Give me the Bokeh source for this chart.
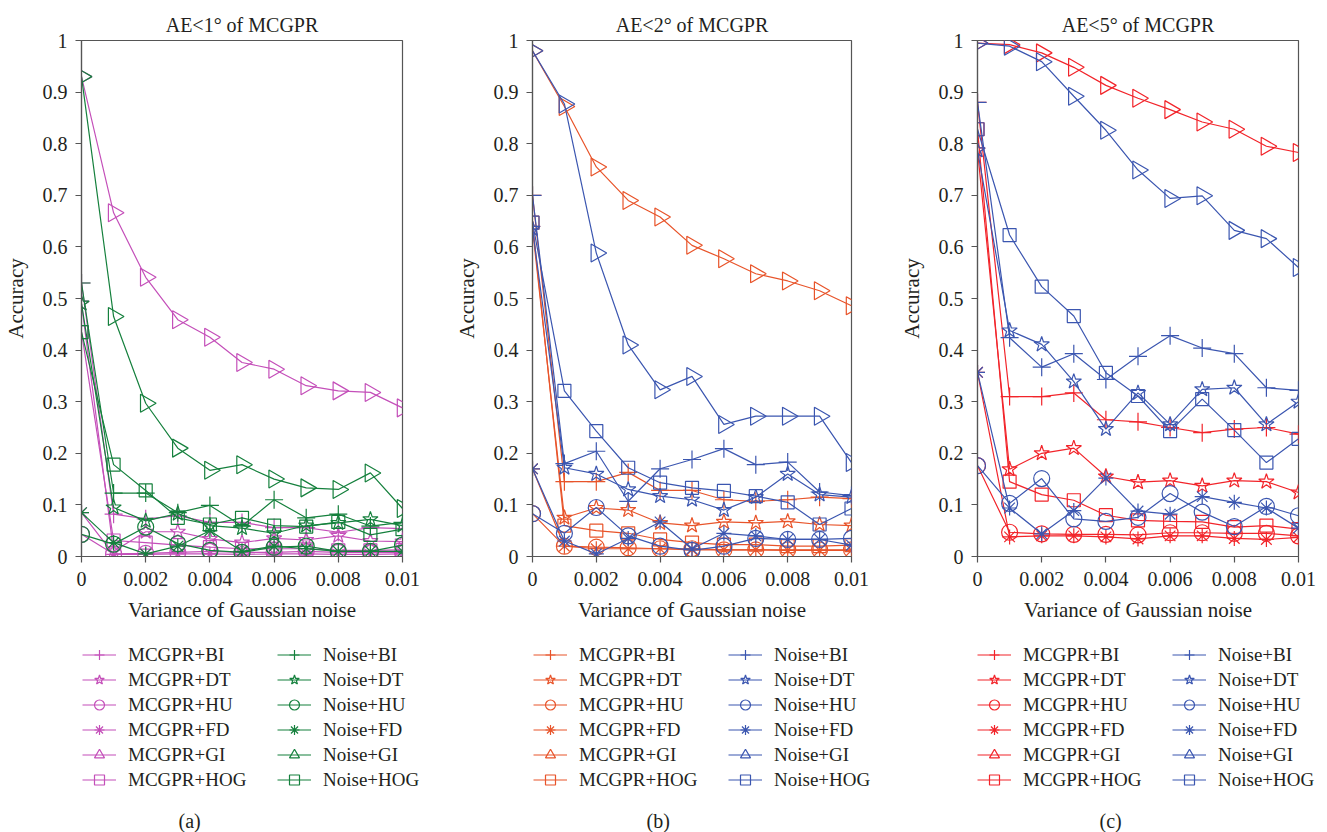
import math
from bokeh.plotting import figure
from bokeh.layouts import row, column
from bokeh.models import Range1d, FixedTicker, Legend, LegendItem, Label
from bokeh.embed import file_html
from bokeh.resources import INLINE

# ---------------- data ----------------
noise_var = [0, 0.001, 0.002, 0.003, 0.004, 0.005, 0.006, 0.007, 0.008, 0.009, 0.01]
x_ticks = [0, 0.002, 0.004, 0.006, 0.008, 0.01]
x_tick_labels = ["0", "0.002", "0.004", "0.006", "0.008", "0.01"]
y_ticks = [0, 0.1, 0.2, 0.3, 0.4, 0.5, 0.6, 0.7, 0.8, 0.9, 1]
y_tick_labels = ["0", "0.1", "0.2", "0.3", "0.4", "0.5", "0.6", "0.7", "0.8", "0.9", "1"]
features = ["BI", "DT", "HU", "FD", "GI", "HOG"]
panel_titles = ["AE<1° of MCGPR", "AE<2° of MCGPR", "AE<5° of MCGPR"]
captions = ["(a)", "(b)", "(c)"]
x_label = "Variance of Gaussian noise"
y_label = "Accuracy"

# panel (a) AE<1°
a_mcgpr_bi = [0.53, 0.082, 0.073, 0.079, 0.066, 0.066, 0.056, 0.056, 0.047, 0.056, 0.054]
a_mcgpr_dt = [0.49, 0.010, 0.048, 0.048, 0.034, 0.027, 0.035, 0.032, 0.040, 0.030, 0.029]
a_mcgpr_hu = [0.043, 0.005, 0.006, 0.008, 0.010, 0.008, 0.008, 0.010, 0.008, 0.008, 0.008]
a_mcgpr_fd = [0.085, 0.004, 0.004, 0.005, 0.005, 0.004, 0.005, 0.005, 0.004, 0.004, 0.005]
a_mcgpr_gi = [0.93, 0.666, 0.541, 0.459, 0.425, 0.376, 0.363, 0.331, 0.321, 0.318, 0.288]
a_mcgpr_hog = [0.435, 0.031, 0.027, 0.022, 0.018, 0.015, 0.015, 0.015, 0.012, 0.012, 0.013]
a_noise_bi = [0.53, 0.123, 0.123, 0.085, 0.099, 0.059, 0.110, 0.075, 0.082, 0.059, 0.066]
a_noise_dt = [0.49, 0.095, 0.069, 0.083, 0.060, 0.055, 0.045, 0.060, 0.065, 0.072, 0.060]
a_noise_hu = [0.043, 0.024, 0.057, 0.025, 0.012, 0.008, 0.018, 0.020, 0.010, 0.010, 0.022]
a_noise_fd = [0.085, 0.027, 0.005, 0.020, 0.050, 0.010, 0.020, 0.015, 0.010, 0.010, 0.010]
a_noise_gi = [0.93, 0.465, 0.297, 0.210, 0.167, 0.178, 0.150, 0.133, 0.130, 0.162, 0.093]
a_noise_hog = [0.435, 0.178, 0.128, 0.075, 0.062, 0.075, 0.060, 0.058, 0.067, 0.042, 0.053]

# panel (b) AE<2°
b_mcgpr_bi = [0.70, 0.145, 0.145, 0.163, 0.128, 0.128, 0.110, 0.107, 0.110, 0.115, 0.112]
b_mcgpr_dt = [0.635, 0.075, 0.094, 0.090, 0.065, 0.060, 0.067, 0.065, 0.068, 0.062, 0.060]
b_mcgpr_hu = [0.083, 0.020, 0.018, 0.017, 0.015, 0.015, 0.013, 0.013, 0.013, 0.013, 0.013]
b_mcgpr_fd = [0.17, 0.020, 0.015, 0.015, 0.015, 0.013, 0.013, 0.013, 0.012, 0.012, 0.012]
b_mcgpr_gi = [0.98, 0.872, 0.755, 0.690, 0.658, 0.603, 0.577, 0.548, 0.534, 0.515, 0.486]
b_mcgpr_hog = [0.647, 0.060, 0.050, 0.045, 0.033, 0.027, 0.023, 0.023, 0.020, 0.020, 0.022]
b_noise_bi = [0.70, 0.180, 0.204, 0.107, 0.170, 0.188, 0.209, 0.178, 0.183, 0.125, 0.118]
b_noise_dt = [0.635, 0.172, 0.160, 0.130, 0.117, 0.110, 0.090, 0.115, 0.160, 0.120, 0.115]
b_noise_hu = [0.083, 0.045, 0.095, 0.040, 0.020, 0.012, 0.020, 0.035, 0.033, 0.033, 0.035]
b_noise_fd = [0.17, 0.030, 0.005, 0.035, 0.067, 0.015, 0.045, 0.040, 0.033, 0.033, 0.022]
b_noise_gi = [0.98, 0.877, 0.588, 0.410, 0.323, 0.349, 0.256, 0.272, 0.272, 0.272, 0.182]
b_noise_hog = [0.647, 0.321, 0.243, 0.172, 0.143, 0.133, 0.127, 0.117, 0.105, 0.062, 0.093]

# panel (c) AE<5°
c_mcgpr_bi = [0.88, 0.310, 0.310, 0.317, 0.265, 0.261, 0.250, 0.240, 0.247, 0.250, 0.237]
c_mcgpr_dt = [0.787, 0.169, 0.200, 0.210, 0.155, 0.144, 0.147, 0.137, 0.147, 0.145, 0.124]
c_mcgpr_hu = [0.176, 0.047, 0.044, 0.043, 0.043, 0.042, 0.046, 0.046, 0.045, 0.045, 0.040]
c_mcgpr_fd = [0.357, 0.038, 0.040, 0.040, 0.038, 0.034, 0.040, 0.040, 0.035, 0.033, 0.037]
c_mcgpr_gi = [0.995, 0.992, 0.976, 0.948, 0.913, 0.888, 0.866, 0.842, 0.828, 0.795, 0.783]
c_mcgpr_hog = [0.828, 0.145, 0.120, 0.109, 0.080, 0.070, 0.068, 0.067, 0.057, 0.060, 0.053]
c_noise_bi = [0.88, 0.424, 0.367, 0.393, 0.343, 0.388, 0.428, 0.404, 0.393, 0.327, 0.322]
c_noise_dt = [0.787, 0.438, 0.411, 0.339, 0.247, 0.317, 0.256, 0.324, 0.327, 0.256, 0.300]
c_noise_hu = [0.176, 0.103, 0.151, 0.073, 0.068, 0.076, 0.122, 0.086, 0.058, 0.097, 0.079]
c_noise_fd = [0.357, 0.094, 0.044, 0.089, 0.152, 0.088, 0.082, 0.116, 0.105, 0.094, 0.055]
c_noise_gi = [0.995, 0.989, 0.959, 0.892, 0.826, 0.749, 0.694, 0.699, 0.632, 0.616, 0.560]
c_noise_hog = [0.828, 0.623, 0.523, 0.466, 0.356, 0.311, 0.243, 0.305, 0.245, 0.182, 0.228]

panel_a = {"MCGPR": [a_mcgpr_bi, a_mcgpr_dt, a_mcgpr_hu, a_mcgpr_fd, a_mcgpr_gi, a_mcgpr_hog],
           "Noise": [a_noise_bi, a_noise_dt, a_noise_hu, a_noise_fd, a_noise_gi, a_noise_hog]}
panel_b = {"MCGPR": [b_mcgpr_bi, b_mcgpr_dt, b_mcgpr_hu, b_mcgpr_fd, b_mcgpr_gi, b_mcgpr_hog],
           "Noise": [b_noise_bi, b_noise_dt, b_noise_hu, b_noise_fd, b_noise_gi, b_noise_hog]}
panel_c = {"MCGPR": [c_mcgpr_bi, c_mcgpr_dt, c_mcgpr_hu, c_mcgpr_fd, c_mcgpr_gi, c_mcgpr_hog],
           "Noise": [c_noise_bi, c_noise_dt, c_noise_hu, c_noise_fd, c_noise_gi, c_noise_hog]}

# ---------------- style ----------------
FONT = "Liberation Serif"
TXT = "#231f20"
AX = "#555555"
marker_style = {
    "BI": ("cross", 18, 0.0),
    "DT": ("star", 16, 0.0),
    "HU": ("circle", 16, 0.0),
    "FD": ("asterisk", 15, 0.0),
    "GI": ("triangle", 18, -math.pi / 2),
    "HOG": ("square", 13, 0.0),
}

TOTAL_W = 1327
PLOT_H = 640
LEG_H = 832 - PLOT_H


def add_series(p, data, mcolor, ncolor):
    items = []
    for group, color in (("MCGPR", mcolor), ("Noise", ncolor)):
        for feat, ys in zip(features, data[group]):
            mk, sz, ang = marker_style[feat]
            lr = p.line(noise_var, ys, line_color=color, line_width=1.2)
            sr = p.scatter(noise_var, ys, marker=mk, size=sz, angle=ang,
                           line_color=color, fill_color=None, line_width=1.2)
            items.append(LegendItem(label=f"{group}+{feat}", renderers=[lr, sr]))
    return items


def make_plot(title, data, mcolor, ncolor, width, b_left, b_right, frame_bottom):
    p = figure(width=width, height=PLOT_H, output_backend="svg", toolbar_location=None,
               x_range=Range1d(0, 0.01), y_range=Range1d(0, 1),
               min_border_left=b_left, min_border_right=b_right, min_border_top=40,
               min_border_bottom=PLOT_H - frame_bottom)
    p.title.text = title
    p.title.text_font = FONT
    p.title.text_font_size = "20px"
    p.title.text_font_style = "normal"
    p.title.text_color = TXT
    p.title.align = "center"
    p.grid.visible = False
    p.outline_line_color = AX
    p.outline_line_width = 1.2
    p.background_fill_color = "white"
    p.border_fill_color = "white"

    for ax in (p.xaxis[0], p.yaxis[0]):
        ax.axis_line_color = AX
        ax.axis_line_width = 1.2
        ax.major_tick_line_color = AX
        ax.major_tick_line_width = 1.2
        ax.major_tick_in = 0
        ax.major_tick_out = 6
        ax.minor_tick_line_color = None
        ax.major_label_text_font = FONT
        ax.major_label_text_font_size = "20px"
        ax.major_label_text_color = TXT
        ax.axis_label_text_font = FONT
        ax.axis_label_text_font_size = "21px"
        ax.axis_label_text_font_style = "normal"
        ax.axis_label_text_color = TXT

    p.xaxis.ticker = FixedTicker(ticks=x_ticks)
    p.xaxis.major_label_overrides = dict(zip(x_ticks, x_tick_labels))
    p.yaxis.ticker = FixedTicker(ticks=y_ticks)
    p.yaxis.major_label_overrides = dict(zip(y_ticks, y_tick_labels))
    p.xaxis.axis_label = x_label
    p.yaxis.axis_label = y_label
    p.xaxis.major_label_standoff = 9
    p.xaxis.axis_label_standoff = 9
    p.yaxis.major_label_standoff = 8
    p.yaxis.axis_label_standoff = 12

    add_series(p, data, mcolor, ncolor)
    return p


pa = make_plot(panel_titles[0], panel_a, "#c44fb9", "#15803d", 445, 80, 43, 561)
pb = make_plot(panel_titles[1], panel_b, "#e8542a", "#3b56b0", 445, 87, 39, 556)
pc = make_plot(panel_titles[2], panel_c, "#f2242a", "#3b56b0", 437, 87, 29, 556)

# ---------------- legend strip (same series drawn off-range; only legends show) ----------------
q = figure(width=TOTAL_W, height=LEG_H, output_backend="svg", toolbar_location=None,
           x_range=Range1d(1, 2), y_range=Range1d(1, 2),
           x_axis_type=None, y_axis_type=None,
           min_border_left=0, min_border_right=0, min_border_top=0, min_border_bottom=0)
q.grid.visible = False
q.outline_line_color = None
q.background_fill_color = "white"
q.border_fill_color = "white"

ROW_H = 25
LEG_ROWS = 6
leg_height = LEG_ROWS * ROW_H
leg_top = 2

for data, mcolor, ncolor, leg_x, cap, cap_x in (
        (panel_a, "#c44fb9", "#15803d", 82, captions[0], 178),
        (panel_b, "#e8542a", "#3b56b0", 533, captions[1], 646),
        (panel_c, "#f2242a", "#3b56b0", 977, captions[2], 1099)):
    items = add_series(q, data, mcolor, ncolor)
    legend = Legend(items=items, ncols=2, orientation="vertical",
                    location=(leg_x, LEG_H - leg_top - leg_height),
                    border_line_color=None, background_fill_alpha=0,
                    label_text_font=FONT, label_text_font_size="19px", label_text_color=TXT,
                    glyph_width=34, glyph_height=ROW_H, label_height=ROW_H, label_width=149,
                    label_standoff=12, spacing=0, padding=0, margin=0)
    q.add_layout(legend, "center")
    q.add_layout(Label(x=cap_x, y=12, x_units="screen", y_units="screen",
                       text=cap, text_font=FONT, text_font_size="20px", text_color=TXT,
                       text_baseline="middle", text_align="left"))

layout = column(row(pa, pb, pc, spacing=0), q, spacing=0)
open("out.html", "w").write(file_html(layout, INLINE))
